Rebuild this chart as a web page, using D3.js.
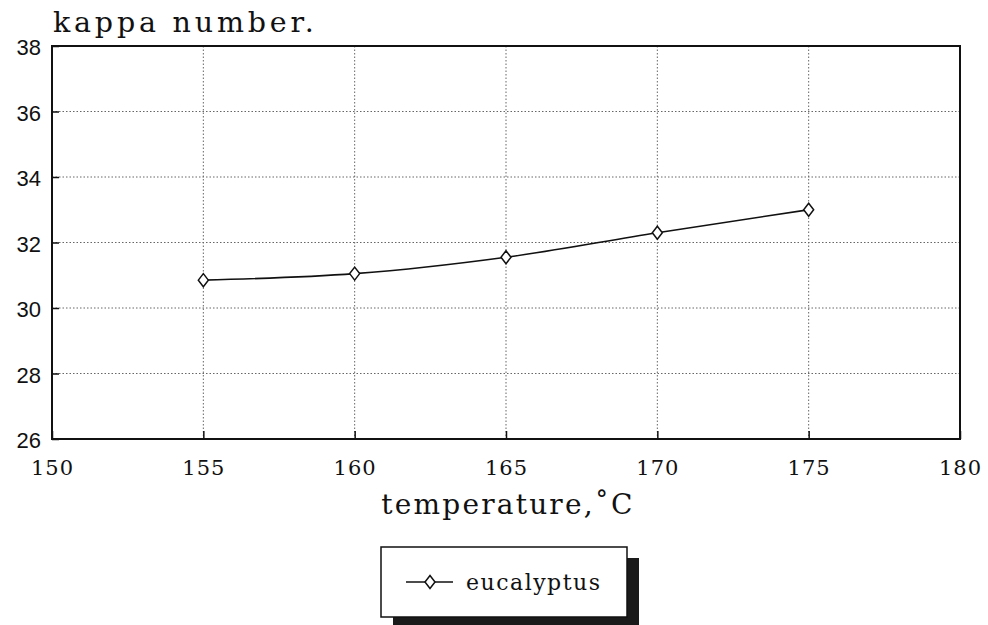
<!DOCTYPE html>
<html>
<head>
<meta charset="utf-8">
<script src="https://cdn.jsdelivr.net/npm/d3@7"></script>
<style>
  html, body { margin: 0; padding: 0; background: #fff; }
  svg { display: block; }
</style>
</head>
<body>
<svg id="chart" width="988" height="625"></svg>
<script>
// Kappa number of eucalyptus pulp against cooking temperature
const temperatures = [155, 160, 165, 170, 175];
const kappaValues = [30.85, 31.05, 31.55, 32.3, 33.0];
const xTicks = [150, 155, 160, 165, 170, 175, 180];
const yTicks = [26, 28, 30, 32, 34, 36, 38];
const seriesName = "eucalyptus";

(function () {
const svg = d3.select("#chart");
const plotLeft = 52, plotRight = 960, plotTop = 46, plotBottom = 439;

const x = d3.scaleLinear().domain([150, 180]).range([plotLeft, plotRight]);
const y = d3.scaleLinear().domain([26, 38]).range([plotBottom, plotTop]);

const serif = "'DejaVu Serif', serif";
const sans = "'Liberation Sans', Arial, sans-serif";

// dotted grid
const grid = svg.append("g").attr("stroke", "#666").attr("stroke-width", 1)
  .attr("stroke-dasharray", "1.5,2");
grid.selectAll(".gx").data(xTicks.slice(1, -1)).join("line")
  .attr("x1", d => x(d)).attr("x2", d => x(d))
  .attr("y1", plotTop).attr("y2", plotBottom);
grid.selectAll(".gy").data(yTicks.slice(1, -1)).join("line")
  .attr("x1", plotLeft).attr("x2", plotRight)
  .attr("y1", d => y(d)).attr("y2", d => y(d));

// bottom axis: inward ticks, serif labels
const xAxis = svg.append("g").attr("transform", `translate(0,${plotBottom})`)
  .call(d3.axisBottom(x).tickValues(xTicks).tickSize(-8).tickPadding(21).tickFormat(d3.format("d")));
xAxis.attr("font-family", serif).attr("font-size", 21);
xAxis.select(".domain").remove();
xAxis.selectAll("line").attr("stroke", "#111").attr("stroke-width", 1.5);
xAxis.selectAll("text").attr("fill", "#111").attr("letter-spacing", 1);

// left axis: inward ticks, sans labels
const yAxis = svg.append("g").attr("transform", `translate(${plotLeft},0)`)
  .call(d3.axisLeft(y).tickValues(yTicks).tickSize(-7).tickPadding(11).tickFormat(d3.format("d")));
yAxis.attr("font-family", sans).attr("font-size", 22);
yAxis.select(".domain").remove();
yAxis.selectAll("line").attr("stroke", "#111").attr("stroke-width", 1.5);
yAxis.selectAll("text").attr("fill", "#111").attr("dy", "0.4em");

// frame
svg.append("rect").attr("x", plotLeft).attr("y", plotTop)
  .attr("width", plotRight - plotLeft).attr("height", plotBottom - plotTop)
  .attr("fill", "none").attr("stroke", "#111").attr("stroke-width", 2);

// series line
const pts = temperatures.map((t, i) => [t, kappaValues[i]]);
svg.append("path").datum(pts)
  .attr("fill", "none").attr("stroke", "#111").attr("stroke-width", 1.6)
  .attr("d", d3.line().x(d => x(d[0])).y(d => y(d[1])).curve(d3.curveMonotoneX));

// hollow diamond markers
const diamond = (cx, cy) => `M${cx},${cy - 6.5}L${cx + 5},${cy}L${cx},${cy + 6.5}L${cx - 5},${cy}Z`;
svg.selectAll(".marker").data(pts).join("path")
  .attr("d", d => diamond(x(d[0]), y(d[1])))
  .attr("fill", "#fff").attr("stroke", "#111").attr("stroke-width", 1.5);

// titles
svg.append("text").attr("x", 53).attr("y", 32)
  .attr("font-family", serif).attr("font-size", 28.5).attr("letter-spacing", 3.8)
  .attr("fill", "#111").text("kappa number.");
svg.append("text").attr("x", 508).attr("y", 514)
  .attr("text-anchor", "middle")
  .attr("font-family", serif).attr("font-size", 28).attr("letter-spacing", 2.2)
  .attr("fill", "#111").text("temperature,˚C");

// legend with drop shadow
const lg = svg.append("g");
lg.append("rect").attr("x", 393).attr("y", 558).attr("width", 246).attr("height", 70)
  .attr("fill", "#1a1a1a");
lg.append("rect").attr("x", 381).attr("y", 547).attr("width", 246).attr("height", 70)
  .attr("fill", "#fff").attr("stroke", "#111").attr("stroke-width", 1.5);
lg.append("line").attr("x1", 406).attr("x2", 453).attr("y1", 582).attr("y2", 582)
  .attr("stroke", "#111").attr("stroke-width", 1.5);
lg.append("path").attr("d", diamond(430, 582))
  .attr("fill", "#fff").attr("stroke", "#111").attr("stroke-width", 1.5);
lg.append("text").attr("x", 466).attr("y", 590)
  .attr("font-family", serif).attr("font-size", 22).attr("letter-spacing", 1.5)
  .attr("fill", "#111").text(seriesName);
})();
</script>
</body>
</html>
